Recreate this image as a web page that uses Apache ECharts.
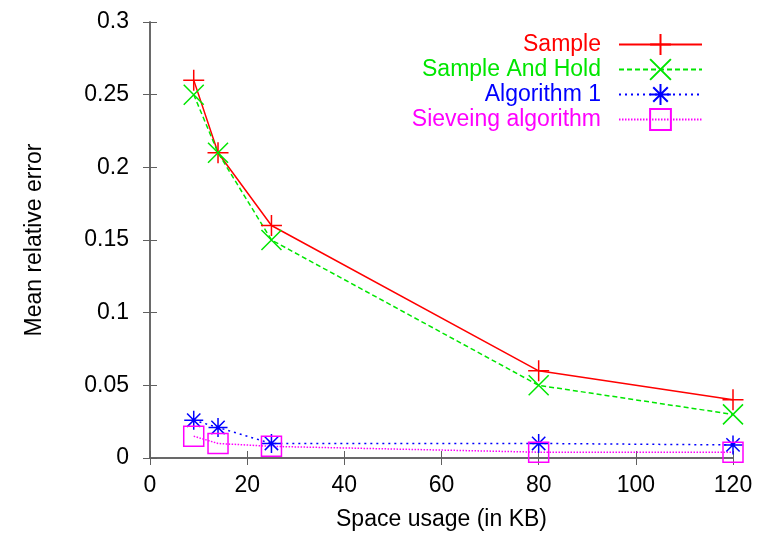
<!DOCTYPE html>
<html><head><meta charset="utf-8">
<script src="https://cdn.jsdelivr.net/npm/echarts@6/dist/echarts.min.js"></script>
<style>html,body{margin:0;padding:0;background:#fff}#c{width:761px;height:536px}</style>
</head><body><div id="c"></div>
<script>
const spaceKB = [9, 14, 25, 80, 120];
const sampleErr = [0.26, 0.21, 0.16, 0.06, 0.04];
const sampleHoldErr = [0.25, 0.21, 0.15, 0.05, 0.03];
const algorithm1Err = [0.026, 0.021, 0.010, 0.010, 0.009];
const sievingErr = [0.015, 0.010, 0.008, 0.004, 0.004];
const seriesNames = ['Sample', 'Sample And Hold', 'Algorithm 1', 'Sieveing algorithm'];
const xTicks = [0, 20, 40, 60, 80, 100, 120];
const yTicks = [0, 0.05, 0.1, 0.15, 0.2, 0.25, 0.3];

const FONT = '"Liberation Sans", Arial, sans-serif';
const FS = 23;
const AX = '#606060';
const pair = (ys) => spaceKB.map((x, i) => [x, ys[i]]);

const symPlus = 'path://M0,5L10,5M5,0L5,10';
const symX = 'path://M0,0L10,10M0,10L10,0';
const symStar = 'path://M0,5L10,5M5,0L5,10M1.5,1.5L8.5,8.5M1.5,8.5L8.5,1.5';
const symSquare = 'path://M0,0L10,0L10,10L0,10Z';

const defs = [
  {name: seriesNames[0], data: sampleErr, color: '#ff0000', sym: symPlus, size: 21, type: 'solid'},
  {name: seriesNames[1], data: sampleHoldErr, color: '#00e600', sym: symX, size: 20, type: [5, 3]},
  {name: seriesNames[2], data: algorithm1Err, color: '#0000ff', sym: symStar, size: 19, type: [2, 4]},
  {name: seriesNames[3], data: sievingErr, color: '#ff00ff', sym: symSquare, size: 20, type: [1.5, 1.5]}
];

const series = defs.map(d => ({
  name: d.name, type: 'line', data: pair(d.data),
  symbol: d.sym, symbolSize: d.size, showSymbol: true,
  lineStyle: {color: d.color, width: 1.5, type: d.type},
  itemStyle: {color: 'transparent', borderColor: d.color, borderWidth: 1.5},
  emphasis: {disabled: true}, animation: false
}));

const legendTops = [33, 58, 83, 108];
const legends = defs.map((d, i) => ({
  data: [d.name], right: 58, top: legendTops[i], orient: 'vertical', align: 'right', padding: 0,
  itemWidth: 83, itemHeight: 26, selectedMode: false,
  textStyle: {color: d.color, fontFamily: FONT, fontSize: FS, padding: [0, 13, 0, 0]}
}));

const axisCommon = {
  axisLine: {show: true, lineStyle: {color: AX, width: 1.5}},
  axisTick: {show: true, inside: true, length: 7, lineStyle: {color: AX, width: 1}},
  splitLine: {show: false}
};

const option = {
  backgroundColor: '#ffffff',
  animation: false,
  grid: {left: 150, right: 28, top: 22, bottom: 78, containLabel: false},
  legend: legends,
  xAxis: [
    Object.assign({type: 'value', min: xTicks[0], max: xTicks[xTicks.length - 1], interval: xTicks[1] - xTicks[0],
      name: 'Space usage (in KB)', nameLocation: 'middle', nameGap: 50,
      nameTextStyle: {fontFamily: FONT, fontSize: FS, color: '#000'},
      axisLabel: {fontFamily: FONT, fontSize: FS, color: '#000', margin: 16}}, axisCommon),
    Object.assign({type: 'value', position: 'top', min: xTicks[0], max: xTicks[xTicks.length - 1], interval: xTicks[1] - xTicks[0],
      axisLabel: {show: false}}, axisCommon)
  ],
  yAxis: [
    Object.assign({type: 'value', min: yTicks[0], max: yTicks[yTicks.length - 1], interval: yTicks[1] - yTicks[0],
      name: 'Mean relative error', nameLocation: 'middle', nameGap: 104,
      nameTextStyle: {fontFamily: FONT, fontSize: FS, color: '#000'},
      axisLabel: {fontFamily: FONT, fontSize: FS, color: '#000', margin: 21}}, axisCommon),
    Object.assign({type: 'value', position: 'right', min: yTicks[0], max: yTicks[yTicks.length - 1], interval: yTicks[1] - yTicks[0],
      axisLabel: {show: false}}, axisCommon)
  ],
  series: series
};

const chart = echarts.init(document.getElementById('c'), null, {renderer: 'canvas'});
chart.setOption(option);
</script></body></html>
